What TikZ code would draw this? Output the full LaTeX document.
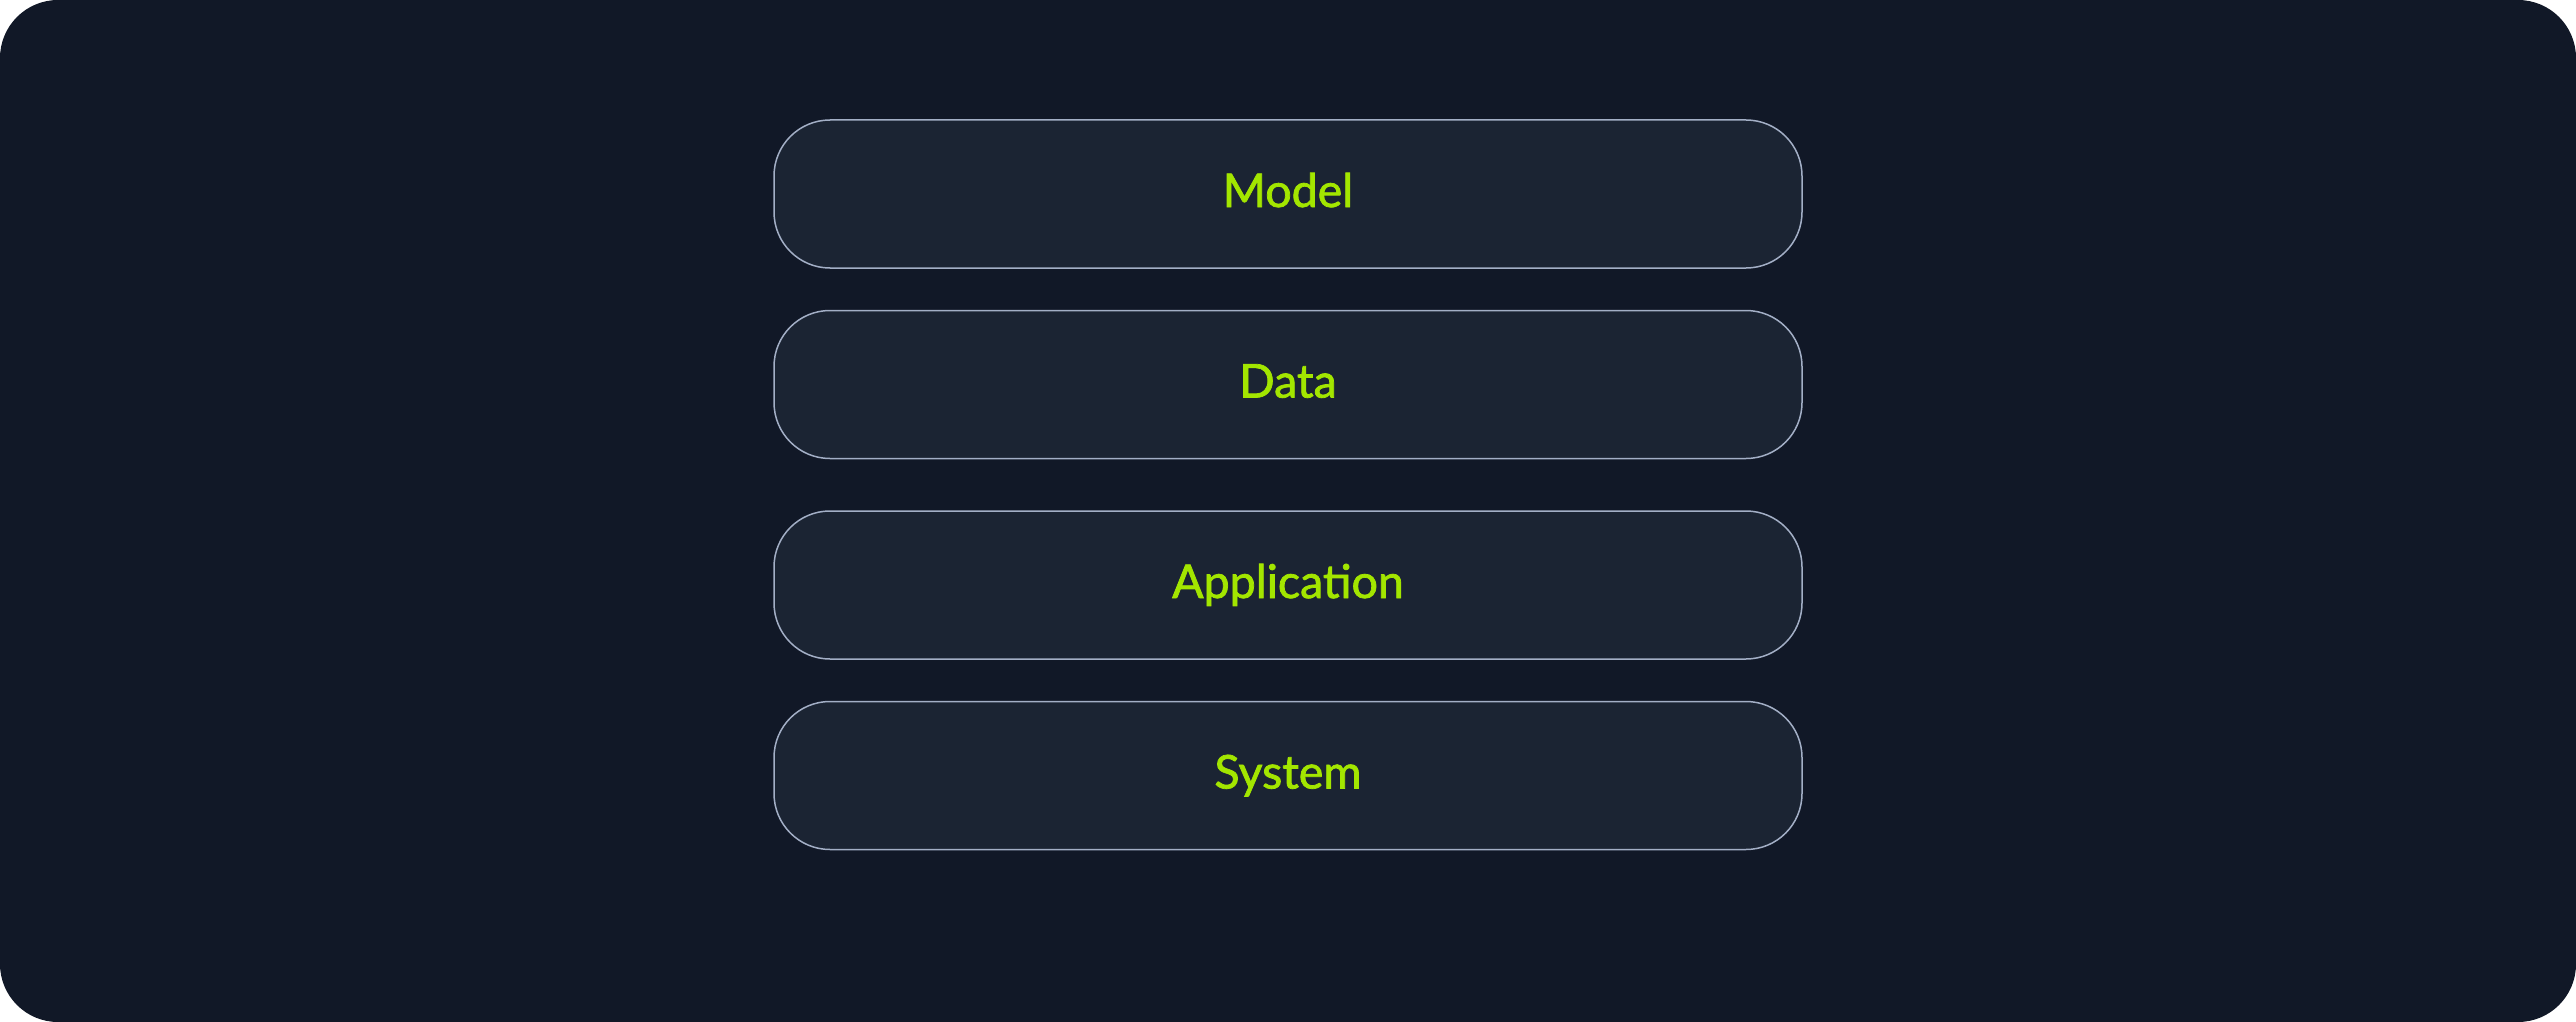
\documentclass[tikz,border=0pt]{standalone}
\usepackage{fontspec}
\setmainfont{Lato}
\newfontfamily\layerfont{Lato}[FakeBold=1.6]
\definecolor{pagebg}{HTML}{111827}
\definecolor{boxfill}{HTML}{1B2433}
\definecolor{boxline}{HTML}{A3AFC6}
\definecolor{lime}{HTML}{A3E600}
\tikzset{
  layer/.style={draw=boxline, fill=boxfill, line width=1.5pt, rounded corners=56pt,
    minimum width=1028pt, minimum height=148pt, inner sep=0pt,
    text=lime, font=\layerfont\fontsize{46.5}{56}\selectfont,
    text height=32pt, text depth=6pt}
}
\begin{document}
\begin{tikzpicture}[x=1pt,y=-1pt]
  \fill[white] (0,0) rectangle (2576,1022);
  \fill[pagebg, rounded corners=58pt] (0,0) rectangle (2576,1022);
  \useasboundingbox (0,0) rectangle (2576,1022);
  \node[layer] (model) at (1288,194) {Model};
  \node[layer] (data) at (1288,384.5) {Data};
  \node[layer] (app) at (1288,585) {Application};
  \node[layer] (sys) at (1288,775.5) {System};
\end{tikzpicture}
\end{document}
